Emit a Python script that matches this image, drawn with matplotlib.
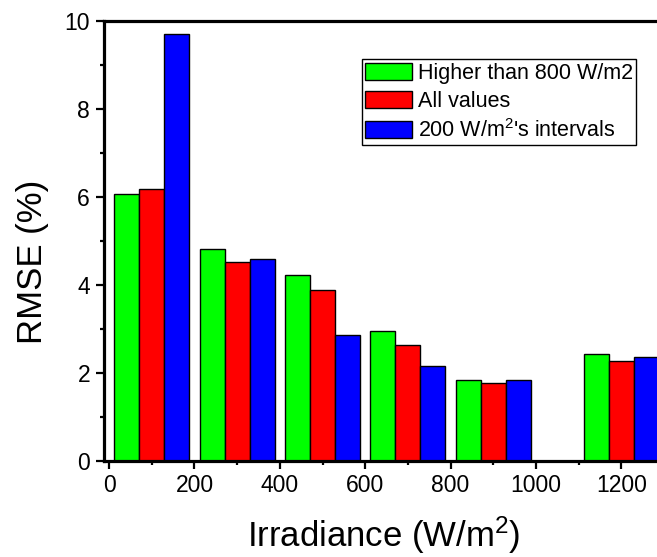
import matplotlib
matplotlib.use("Agg")
import matplotlib.pyplot as plt
import numpy as np

plt.rcParams['font.family'] = ['Liberation Sans', 'DejaVu Sans']
plt.rcParams['mathtext.fontset'] = 'custom'
plt.rcParams['mathtext.rm'] = 'Liberation Sans'
plt.rcParams['mathtext.it'] = 'Liberation Sans:italic'

# Data
group_centers = [100, 300, 500, 700, 900, 1200]
higher_800 = [6.07, 4.81, 4.23, 2.95, 1.83, 2.43]
all_values = [6.17, 4.51, 3.89, 2.63, 1.77, 2.26]
intervals_200 = [9.70, 4.58, 2.86, 2.16, 1.83, 2.37]
series_labels = ["Higher than 800 W/m2", "All values", "200 W/m$^{2}$'s intervals"]
series_colors = ["#00ff00", "#ff0000", "#0000ff"]
xticks = [0, 200, 400, 600, 800, 1000, 1200]
yticks = [0, 2, 4, 6, 8, 10]

W, H = 657, 557
fig = plt.figure(figsize=(W / 100, H / 100), dpi=100)
left_px, right_px, top_px, bottom_px = 104, 664, 20.7, 461
ax = fig.add_axes([left_px / W, (H - bottom_px) / H,
                   (right_px - left_px) / W, (bottom_px - top_px) / H])

bw = 176 / 3
centers = np.array(group_centers, dtype=float)
for i, (vals, lab, col) in enumerate(zip([higher_800, all_values, intervals_200],
                                          series_labels, series_colors)):
    ax.bar(centers + (i - 1) * bw, vals, width=bw, color=col, edgecolor='black',
           linewidth=1.0, label=lab, zorder=2)

ax.set_xlim(-12, 1300)
ax.set_ylim(0, 10)
ax.set_xticks(xticks)
ax.set_yticks(yticks)
ax.set_xticks([100, 300, 500, 700, 900, 1100], minor=True)
ax.set_yticks([1, 3, 5, 7, 9], minor=True)

for s in ax.spines.values():
    s.set_linewidth(2.3)
ax.spines['right'].set_visible(False)

ax.tick_params(axis='both', which='major', direction='out', length=5.5, width=1.6,
               labelsize=16.5, color='black')
ax.tick_params(axis='both', which='minor', direction='out', length=3.0, width=1.6)
ax.tick_params(axis='x', which='major', pad=3.5)
ax.tick_params(axis='y', which='major', pad=4.5)

ax.set_xlabel("Irradiance (W/m$^{2}$)", fontsize=25, labelpad=13)
ax.set_ylabel("RMSE (%)", fontsize=25)
ax.yaxis.set_label_coords(-0.098, 0.452)

leg = ax.legend(loc='upper left', bbox_to_anchor=(0.460, 0.912), fontsize=15.5,
                frameon=True, fancybox=False, edgecolor='black', framealpha=1,
                handlelength=2.2, handleheight=0.84, handletextpad=0.25,
                borderpad=0.15, labelspacing=0.33, borderaxespad=0)
leg.get_frame().set_linewidth(1.0)

fig.savefig("out.png", dpi=100)
